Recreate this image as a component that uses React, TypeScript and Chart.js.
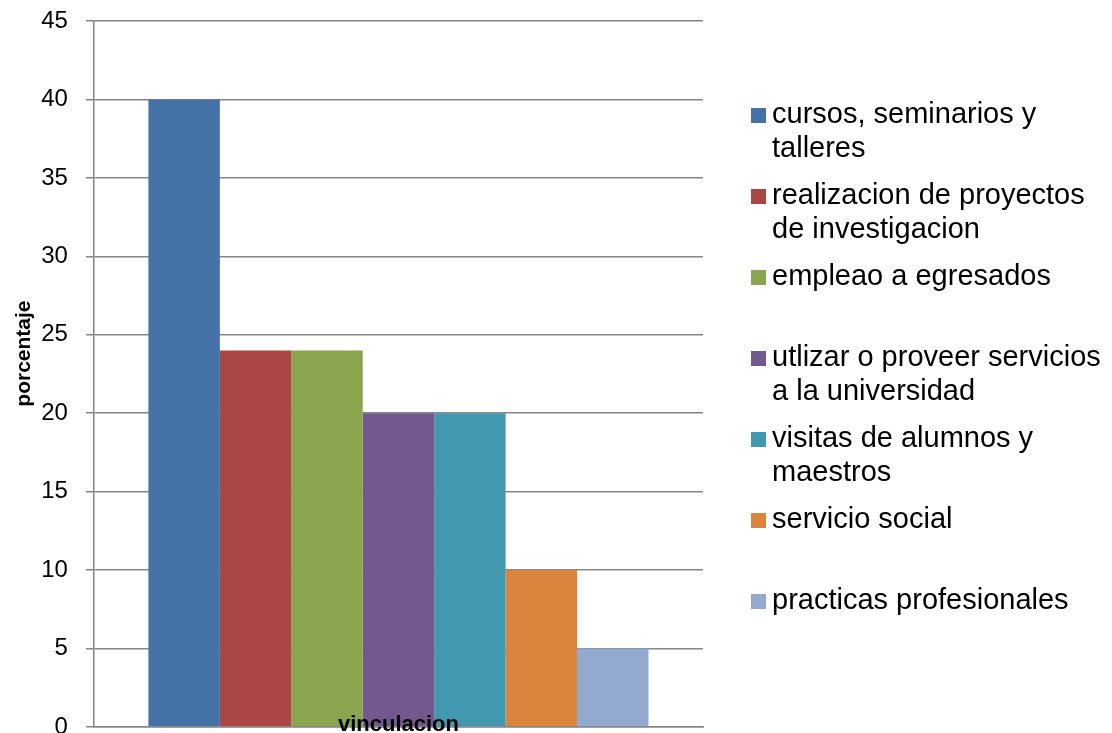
import React, { useEffect, useRef } from "react";
import { Chart, registerables } from "chart.js";

Chart.register(...registerables);

const categories = ["vinculacion"];
const seriesNames = [
  "cursos, seminarios y talleres",
  "realizacion de proyectos de investigacion",
  "empleao a egresados",
  "utlizar o proveer servicios a la universidad",
  "visitas de alumnos y maestros",
  "servicio social",
  "practicas profesionales",
];
const seriesValues = [40, 24, 24, 20, 20, 10, 5];
const seriesColors = ["#4572A7", "#AA4643", "#89A54E", "#71588F", "#4198AF", "#DB843D", "#93A9CF"];
const yMin = 0;
const yMax = 45;
const yStep = 5;
const yTitle = "porcentaje";

const legendPlugin = {
  id: "wrappedLegend",
  afterDraw(chart: any, _args: any, opts: any) {
    const ctx = chart.ctx;
    ctx.save();
    ctx.font = opts.font;
    ctx.textBaseline = "alphabetic";
    ctx.textAlign = "left";
    chart.data.datasets.forEach((ds: any, i: number) => {
      const words = String(ds.label).split(" ");
      const lines: string[] = [];
      let cur = "";
      words.forEach((w) => {
        const test = cur ? cur + " " + w : w;
        if (cur && ctx.measureText(test).width > opts.maxWidth) {
          lines.push(cur);
          cur = w;
        } else cur = test;
      });
      if (cur) lines.push(cur);
      const top = opts.top + i * opts.step;
      ctx.fillStyle = ds.backgroundColor;
      ctx.fillRect(opts.boxX, top, opts.box, opts.box);
      ctx.fillStyle = "#000";
      lines.forEach((ln, j) => {
        ctx.fillText(ln, opts.textX, top + opts.box + j * opts.lineHeight);
      });
    });
    ctx.restore();
  },
};

export default function App() {
  const ref = useRef<HTMLCanvasElement>(null);
  useEffect(() => {
    if (!ref.current) return;
    const chart = new Chart(ref.current, {
      type: "bar",
      data: {
        labels: categories,
        datasets: seriesNames.map((name, i) => ({
          label: name,
          data: [seriesValues[i]],
          backgroundColor: seriesColors[i],
          borderWidth: 0,
          categoryPercentage: 0.821,
          barPercentage: 1,
        })),
      },
      options: {
        responsive: false,
        animation: false,
        layout: { padding: { left: 9, top: 21, right: 409, bottom: 6 } },
        plugins: {
          legend: { display: false },
          tooltip: { enabled: false },
          wrappedLegend: {
            font: "29px 'Liberation Sans', Arial, sans-serif",
            maxWidth: 338,
            top: 108,
            step: 81,
            box: 15,
            boxX: 751,
            textX: 772,
            lineHeight: 34,
          },
        } as any,
        scales: {
          x: {
            grid: { display: false, drawTicks: false },
            border: { display: true, color: "#868686", width: 1.5, z: 1 },
            ticks: {
              z: 2,
              mirror: true,
              padding: 0,
              color: "#000",
              font: { family: "'Liberation Sans', Arial, sans-serif", size: 22, weight: "bold", lineHeight: 0.2 },
            },
          },
          y: {
            min: yMin,
            max: yMax,
            afterFit: (scale: any) => {
              scale.paddingTop = 0;
              scale.paddingBottom = 0;
            },
            ticks: {
              stepSize: yStep,
              padding: 18,
              color: "#000",
              font: { family: "'Liberation Sans', Arial, sans-serif", size: 24 },
            },
            grid: { color: "#868686", lineWidth: 1.5, tickLength: 8, drawTicks: true },
            border: { display: true, color: "#868686", width: 1.5 },
            title: {
              display: true,
              text: "       " + yTitle,
              color: "#000",
              padding: { top: 3, bottom: -14 },
              font: { family: "'Liberation Sans', Arial, sans-serif", size: 21, weight: "bold" },
            },
          },
        },
      },
      plugins: [legendPlugin],
    });
    return () => chart.destroy();
  }, []);
  return (
    <div style={{ position: "fixed", left: 0, top: 0, width: 1112, height: 733, overflow: "hidden", background: "#fff" }}>
      <canvas ref={ref} width={1112} height={733} style={{ display: "block" }} />
    </div>
  );
}
